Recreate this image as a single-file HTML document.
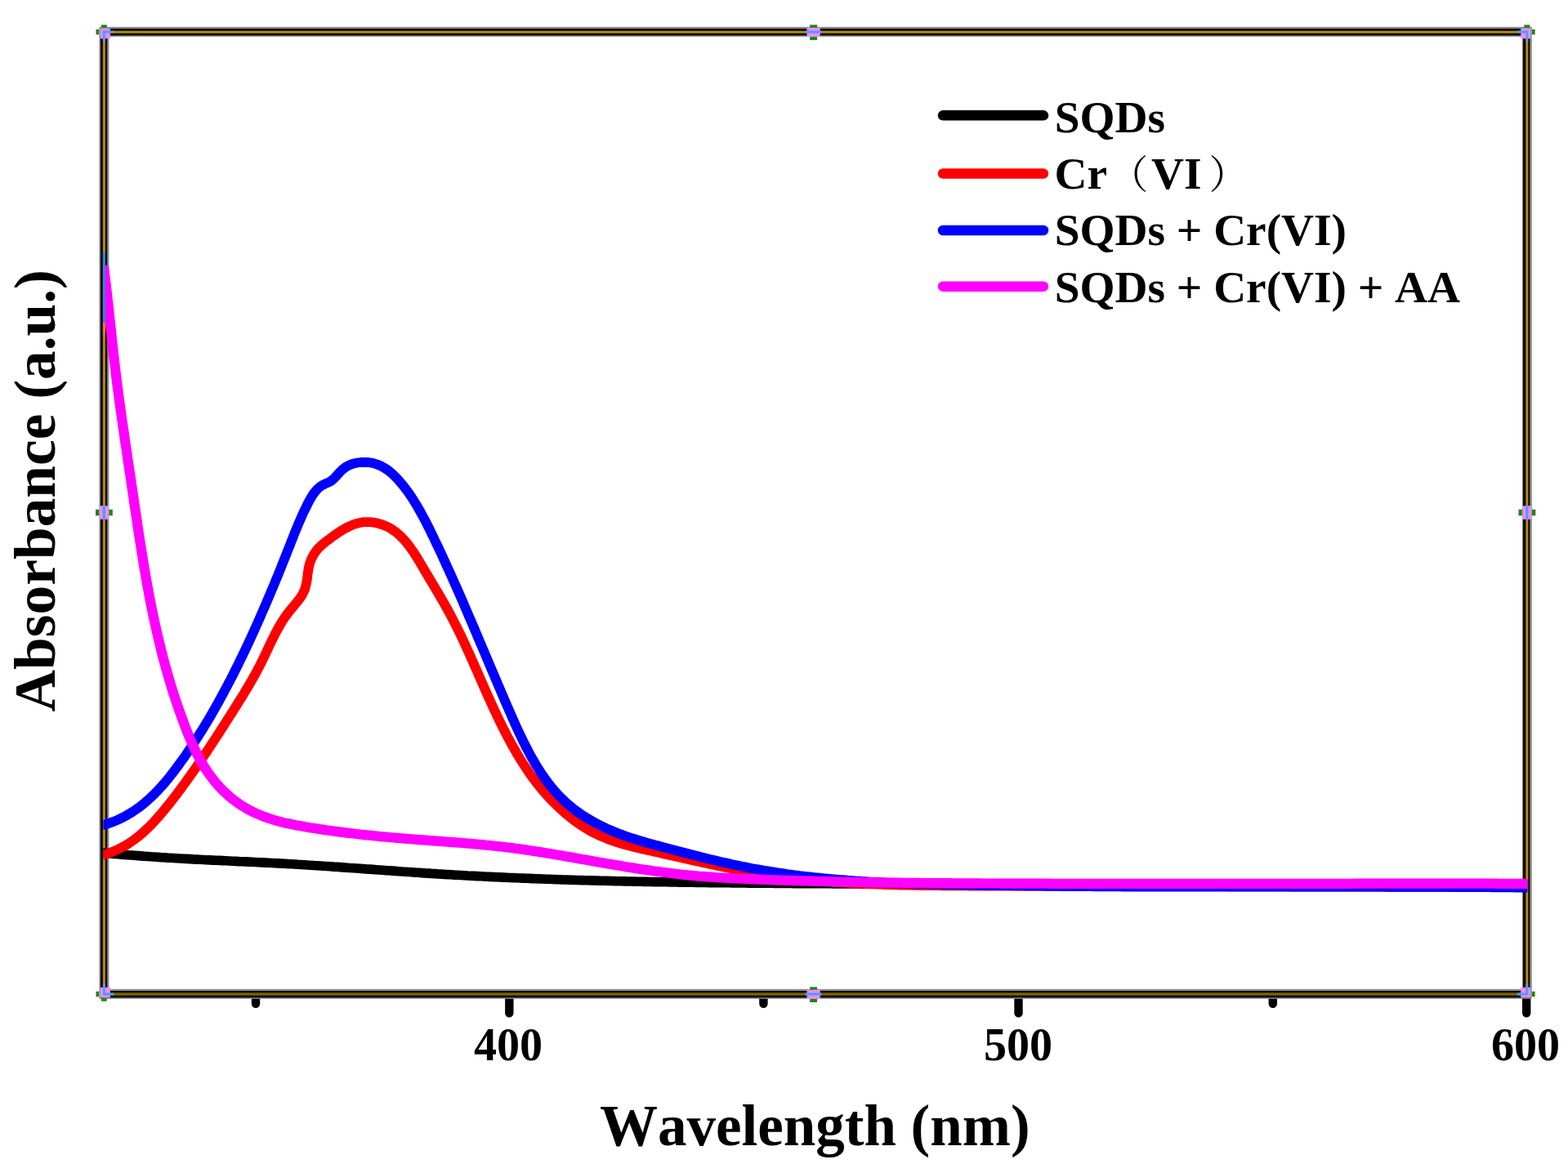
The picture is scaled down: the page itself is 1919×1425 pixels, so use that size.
<!DOCTYPE html>
<html lang="en"><head><meta charset="utf-8"><title>UV-vis absorbance spectra</title>
<style>
html,body{margin:0;padding:0;background:#fff;}
body{width:1919px;height:1425px;overflow:hidden;}
svg{display:block;}
text{fill:#000;font-kerning:none;}
</style></head><body>
<svg width="1919" height="1425" viewBox="0 0 1919 1425">
<rect width="1919" height="1425" fill="#fff"/>
<g stroke="#000" stroke-width="10.4" stroke-linecap="round">
<line x1="623.3" y1="1217.0" x2="623.3" y2="1240.3"/>
<line x1="1246.5" y1="1217.0" x2="1246.5" y2="1240.3"/>
<line x1="1868.2" y1="1217.0" x2="1868.2" y2="1240.3"/>
<line x1="313" y1="1217.0" x2="313" y2="1228.8"/>
<line x1="934.4" y1="1217.0" x2="934.4" y2="1228.8"/>
<line x1="1557.8" y1="1217.0" x2="1557.8" y2="1228.8"/>
</g>
<g fill="none" stroke-linejoin="miter">
<rect x="127.39999999999999" y="38.9" width="1741.4" height="1177.9" stroke="#8c8c8c" stroke-width="12"/>
<rect x="127.1" y="39.300000000000004" width="1741.1000000000001" height="1177.9" stroke="#000" stroke-width="8.2"/>
<path d="M127.39999999999999 1217.0 V39.2 H1868.8000000000002 V1217.0" stroke="#b98a00" stroke-width="3"/>
<path d="M127.39999999999999 1217.0 H1868.8000000000002" stroke="#7d5f00" stroke-width="3.4"/>
</g>
<rect x="125.8" y="309" width="3.2" height="86" fill="#2f84d8"/><rect x="125.8" y="395" width="3.2" height="15" fill="#de7f22"/>
<clipPath id="cp"><rect x="126.4" y="0" width="1742.8999999999999" height="1425"/></clipPath>
<clipPath id="cpm"><rect x="128.9" y="0" width="1740.3999999999999" height="1425"/></clipPath>
<g fill="none" stroke-linejoin="round" stroke-linecap="butt">
<path clip-path="url(#cp)" d="M125.0 1044.0 L129.0 1044.4 L133.0 1044.7 L137.0 1045.1 L140.9 1045.4 L144.9 1045.8 L148.9 1046.1 L152.9 1046.4 L156.9 1046.7 L160.9 1047.0 L164.9 1047.3 L168.9 1047.6 L172.8 1047.9 L176.8 1048.2 L180.8 1048.5 L184.8 1048.8 L188.8 1049.0 L192.8 1049.3 L196.8 1049.6 L200.8 1049.8 L204.8 1050.1 L208.8 1050.3 L212.8 1050.5 L216.7 1050.8 L220.7 1051.0 L224.7 1051.2 L228.7 1051.4 L232.7 1051.6 L236.7 1051.9 L240.7 1052.1 L244.7 1052.3 L248.7 1052.5 L252.7 1052.7 L256.7 1052.9 L260.7 1053.1 L264.7 1053.3 L268.7 1053.4 L272.7 1053.6 L276.6 1053.8 L280.6 1054.0 L284.6 1054.2 L288.6 1054.4 L292.6 1054.6 L296.6 1054.7 L300.6 1054.9 L304.6 1055.1 L308.6 1055.3 L312.6 1055.5 L316.6 1055.7 L320.6 1055.9 L324.6 1056.1 L328.6 1056.3 L332.6 1056.5 L336.6 1056.7 L340.6 1056.9 L344.5 1057.1 L348.5 1057.3 L352.5 1057.6 L356.5 1057.8 L360.5 1058.0 L364.5 1058.3 L368.5 1058.5 L372.5 1058.7 L376.5 1059.0 L380.5 1059.2 L384.5 1059.5 L388.5 1059.7 L392.5 1060.0 L396.4 1060.3 L400.4 1060.5 L404.4 1060.8 L408.4 1061.1 L412.4 1061.3 L416.4 1061.6 L420.4 1061.9 L424.4 1062.2 L428.4 1062.5 L432.4 1062.7 L436.4 1063.0 L440.3 1063.3 L444.3 1063.6 L448.3 1063.9 L452.3 1064.1 L456.3 1064.4 L460.3 1064.7 L464.3 1065.0 L468.3 1065.3 L472.3 1065.6 L476.3 1065.8 L480.3 1066.1 L484.2 1066.4 L488.2 1066.7 L492.2 1067.0 L496.2 1067.2 L500.2 1067.5 L504.2 1067.8 L508.2 1068.1 L512.2 1068.3 L516.2 1068.6 L520.2 1068.9 L524.2 1069.1 L528.1 1069.4 L532.1 1069.6 L536.1 1069.9 L540.1 1070.1 L544.1 1070.4 L548.1 1070.6 L552.1 1070.8 L556.1 1071.1 L560.1 1071.3 L564.1 1071.5 L568.1 1071.7 L572.1 1072.0 L576.1 1072.2 L580.1 1072.4 L584.1 1072.6 L588.0 1072.8 L592.0 1073.0 L596.0 1073.2 L600.0 1073.4 L604.0 1073.6 L608.0 1073.8 L612.0 1073.9 L616.0 1074.1 L620.0 1074.3 L624.0 1074.5 L628.0 1074.6 L632.0 1074.8 L636.0 1075.0 L640.0 1075.1 L644.0 1075.3 L648.0 1075.4 L652.0 1075.6 L656.0 1075.8 L660.0 1075.9 L664.0 1076.0 L668.0 1076.2 L672.0 1076.3 L675.9 1076.5 L679.9 1076.6 L683.9 1076.7 L687.9 1076.9 L691.9 1077.0 L695.9 1077.1 L699.9 1077.2 L703.9 1077.4 L707.9 1077.5 L711.9 1077.6 L715.9 1077.7 L719.9 1077.8 L723.9 1077.9 L727.9 1078.0 L731.9 1078.1 L735.9 1078.2 L739.9 1078.3 L743.9 1078.4 L747.9 1078.5 L751.9 1078.6 L755.9 1078.7 L759.9 1078.8 L763.9 1078.9 L767.9 1079.0 L771.9 1079.0 L775.9 1079.1 L779.9 1079.2 L783.9 1079.3 L787.9 1079.4 L791.9 1079.4 L795.9 1079.5 L799.9 1079.6 L803.9 1079.6 L807.9 1079.7 L811.9 1079.8 L815.9 1079.8 L819.9 1079.9 L823.9 1080.0 L827.9 1080.0 L831.9 1080.1 L835.9 1080.1 L839.9 1080.2 L843.9 1080.3 L847.9 1080.3 L851.9 1080.4 L855.9 1080.4 L859.9 1080.5 L863.9 1080.5 L867.9 1080.6 L871.9 1080.6 L875.9 1080.7 L879.9 1080.7 L883.9 1080.8 L887.9 1080.8 L891.9 1080.8 L895.9 1080.9 L899.9 1080.9 L903.9 1081.0 L907.9 1081.0 L911.9 1081.0 L915.9 1081.1 L919.9 1081.1 L923.9 1081.2 L927.9 1081.2 L931.9 1081.2 L935.9 1081.3 L939.9 1081.3 L943.9 1081.3 L947.9 1081.4 L951.9 1081.4 L955.9 1081.4 L959.9 1081.5 L963.9 1081.5 L967.9 1081.5 L971.9 1081.6 L975.9 1081.6 L979.9 1081.6 L983.9 1081.6 L987.9 1081.7 L991.9 1081.7 L995.9 1081.7 L999.9 1081.7 L1003.9 1081.8 L1007.9 1081.8 L1011.9 1081.8 L1015.9 1081.8 L1019.9 1081.9 L1023.9 1081.9 L1027.9 1081.9 L1031.9 1081.9 L1035.9 1082.0 L1039.9 1082.0 L1043.9 1082.0 L1047.9 1082.0 L1051.9 1082.0 L1055.9 1082.1 L1059.9 1082.1 L1063.9 1082.1 L1067.9 1082.1 L1071.9 1082.1 L1075.9 1082.2 L1079.9 1082.2 L1083.9 1082.2 L1087.9 1082.2 L1091.9 1082.2 L1095.9 1082.2 L1099.9 1082.3 L1103.9 1082.3 L1107.9 1082.3 L1111.9 1082.3 L1115.9 1082.3 L1119.9 1082.3 L1123.9 1082.3 L1127.9 1082.4 L1131.9 1082.4 L1135.9 1082.4 L1139.9 1082.4 L1143.9 1082.4 L1147.9 1082.4 L1151.9 1082.4 L1155.9 1082.4 L1159.9 1082.4 L1163.9 1082.5 L1167.9 1082.5 L1171.9 1082.5 L1175.9 1082.5 L1179.9 1082.5 L1183.9 1082.5 L1187.9 1082.5 L1191.9 1082.5 L1195.9 1082.5 L1199.9 1082.5 L1203.9 1082.5 L1207.9 1082.5 L1211.9 1082.5 L1215.9 1082.5 L1219.9 1082.6 L1223.9 1082.6 L1227.9 1082.6 L1231.9 1082.6 L1235.9 1082.6 L1239.9 1082.6 L1243.9 1082.6 L1247.9 1082.6 L1251.9 1082.6 L1255.9 1082.6 L1259.9 1082.6 L1263.9 1082.6 L1267.9 1082.6 L1271.9 1082.6 L1275.9 1082.6 L1279.9 1082.6 L1283.9 1082.6 L1287.9 1082.6 L1291.9 1082.6 L1295.9 1082.6 L1299.9 1082.6 L1303.9 1082.6 L1307.9 1082.6 L1311.9 1082.6 L1315.9 1082.6 L1319.9 1082.6 L1323.9 1082.6 L1327.9 1082.6 L1331.9 1082.6 L1335.9 1082.6 L1339.9 1082.6 L1343.9 1082.6 L1347.9 1082.6 L1351.9 1082.6 L1355.9 1082.6 L1359.9 1082.6 L1363.9 1082.6 L1367.9 1082.6 L1371.9 1082.6 L1375.9 1082.6 L1379.9 1082.6 L1383.9 1082.6 L1387.9 1082.6 L1391.9 1082.6 L1395.9 1082.5 L1399.9 1082.5 L1403.9 1082.5 L1407.9 1082.5 L1411.9 1082.5 L1415.9 1082.5 L1419.9 1082.5 L1423.9 1082.5 L1427.9 1082.5 L1431.9 1082.5 L1435.9 1082.5 L1439.9 1082.5 L1443.9 1082.5 L1447.9 1082.5 L1451.9 1082.5 L1455.9 1082.5 L1459.9 1082.5 L1463.9 1082.5 L1467.9 1082.5 L1471.9 1082.5 L1475.9 1082.5 L1479.9 1082.5 L1483.9 1082.5 L1487.9 1082.4 L1491.9 1082.4 L1495.9 1082.4 L1499.9 1082.4 L1503.9 1082.4 L1507.9 1082.4 L1511.9 1082.4 L1515.9 1082.4 L1519.9 1082.4 L1523.9 1082.4 L1527.9 1082.4 L1531.9 1082.4 L1535.9 1082.4 L1539.9 1082.4 L1543.9 1082.4 L1547.9 1082.4 L1551.9 1082.4 L1555.9 1082.4 L1559.9 1082.4 L1563.9 1082.4 L1567.9 1082.4 L1571.9 1082.4 L1575.9 1082.3 L1579.9 1082.3 L1583.9 1082.3 L1587.9 1082.3 L1591.9 1082.3 L1595.9 1082.3 L1599.9 1082.3 L1603.9 1082.3 L1607.9 1082.3 L1611.9 1082.3 L1615.9 1082.3 L1619.9 1082.3 L1623.9 1082.3 L1627.9 1082.3 L1631.9 1082.3 L1635.9 1082.3 L1639.9 1082.3 L1643.9 1082.3 L1647.9 1082.3 L1651.9 1082.3 L1655.9 1082.3 L1659.9 1082.3 L1663.9 1082.3 L1667.9 1082.3 L1671.9 1082.3 L1675.9 1082.3 L1679.9 1082.3 L1683.9 1082.3 L1687.9 1082.3 L1691.9 1082.3 L1695.9 1082.3 L1699.9 1082.3 L1703.9 1082.3 L1707.9 1082.3 L1711.9 1082.3 L1715.9 1082.3 L1719.9 1082.3 L1723.9 1082.3 L1727.9 1082.3 L1731.9 1082.3 L1735.9 1082.3 L1739.9 1082.3 L1743.9 1082.3 L1747.9 1082.3 L1751.9 1082.3 L1755.9 1082.3 L1759.9 1082.3 L1763.9 1082.3 L1767.9 1082.3 L1771.9 1082.3 L1775.9 1082.3 L1779.9 1082.3 L1783.9 1082.3 L1787.9 1082.3 L1791.9 1082.3 L1795.9 1082.4 L1799.9 1082.4 L1803.9 1082.4 L1807.9 1082.4 L1811.9 1082.4 L1815.9 1082.4 L1819.9 1082.4 L1823.9 1082.4 L1827.9 1082.4 L1831.9 1082.4 L1835.9 1082.4 L1839.9 1082.4 L1843.9 1082.5 L1847.9 1082.5 L1851.9 1082.5 L1855.9 1082.5 L1859.9 1082.5 L1863.9 1082.5 L1867.9 1082.5 L1870.0 1082.5" stroke="#000000" stroke-width="11.6"/>
<path clip-path="url(#cp)" d="M125.0 1047.0 L129.0 1045.8 L133.0 1044.6 L136.8 1043.1 L140.5 1041.6 L144.2 1039.9 L147.8 1038.2 L151.3 1036.3 L154.7 1034.3 L158.1 1032.2 L161.3 1030.0 L164.5 1027.7 L167.7 1025.3 L170.8 1022.8 L173.8 1020.2 L176.7 1017.6 L179.6 1014.9 L182.5 1012.2 L185.3 1009.3 L188.0 1006.5 L190.7 1003.5 L193.4 1000.6 L196.0 997.5 L198.6 994.5 L201.2 991.4 L203.7 988.3 L206.2 985.2 L208.7 982.0 L211.2 978.8 L213.6 975.7 L216.1 972.5 L218.5 969.3 L220.9 966.1 L223.3 962.8 L225.6 959.6 L228.0 956.4 L230.3 953.1 L232.6 949.9 L234.9 946.6 L237.2 943.3 L239.5 940.1 L241.8 936.8 L244.0 933.5 L246.3 930.2 L248.5 926.9 L250.7 923.6 L253.0 920.3 L255.2 916.9 L257.4 913.6 L259.6 910.3 L261.8 906.9 L263.9 903.6 L266.1 900.2 L268.3 896.9 L270.4 893.5 L272.6 890.2 L274.8 886.8 L276.9 883.4 L279.1 880.0 L281.2 876.7 L283.4 873.3 L285.5 869.9 L287.7 866.5 L289.8 863.1 L291.9 859.7 L294.1 856.3 L296.2 852.9 L298.3 849.5 L300.3 846.1 L302.4 842.6 L304.4 839.2 L306.5 835.7 L308.4 832.3 L310.4 828.8 L312.4 825.3 L314.3 821.8 L316.1 818.2 L318.0 814.7 L319.8 811.1 L321.6 807.5 L323.3 803.9 L325.0 800.3 L326.7 796.7 L328.4 793.1 L330.1 789.4 L331.9 785.8 L333.6 782.2 L335.4 778.7 L337.2 775.1 L339.1 771.6 L341.0 768.1 L343.0 764.7 L345.0 761.3 L347.2 757.9 L349.4 754.6 L351.8 751.4 L354.2 748.2 L356.8 745.1 L359.4 742.0 L362.0 738.9 L364.5 735.8 L366.9 732.6 L369.1 729.4 L371.1 725.9 L372.7 722.4 L373.9 718.6 L374.8 714.7 L375.6 710.7 L376.1 706.7 L376.6 702.6 L377.2 698.6 L377.9 694.6 L378.8 690.7 L380.1 686.9 L381.6 683.2 L383.5 679.7 L385.6 676.3 L388.0 673.2 L390.6 670.2 L393.5 667.4 L396.6 664.8 L399.8 662.3 L403.1 659.9 L406.4 657.4 L409.7 655.0 L413.1 652.7 L416.5 650.5 L419.9 648.3 L423.4 646.4 L427.0 644.6 L430.5 643.0 L434.2 641.6 L437.9 640.5 L441.6 639.7 L445.4 639.2 L449.3 639.1 L453.2 639.2 L457.1 639.6 L460.9 640.3 L464.7 641.3 L468.5 642.5 L472.1 644.0 L475.7 645.7 L479.1 647.6 L482.3 649.8 L485.4 652.1 L488.4 654.7 L491.3 657.4 L494.0 660.3 L496.7 663.3 L499.2 666.4 L501.7 669.7 L504.0 673.0 L506.4 676.4 L508.6 679.9 L510.8 683.4 L513.0 687.0 L515.1 690.5 L517.2 694.1 L519.3 697.6 L521.3 701.1 L523.4 704.6 L525.5 708.1 L527.5 711.5 L529.6 714.9 L531.6 718.4 L533.6 721.7 L535.6 725.1 L537.6 728.5 L539.6 731.9 L541.6 735.3 L543.5 738.7 L545.4 742.1 L547.3 745.5 L549.2 748.9 L551.1 752.4 L552.9 755.9 L554.7 759.4 L556.5 762.9 L558.3 766.4 L560.1 770.0 L561.8 773.5 L563.6 777.1 L565.3 780.7 L567.0 784.3 L568.7 787.9 L570.3 791.6 L572.0 795.2 L573.7 798.9 L575.3 802.5 L576.9 806.2 L578.6 809.9 L580.2 813.6 L581.8 817.3 L583.5 821.0 L585.1 824.7 L586.7 828.4 L588.4 832.1 L590.0 835.8 L591.6 839.5 L593.2 843.2 L594.9 846.9 L596.5 850.6 L598.2 854.3 L599.9 858.0 L601.5 861.6 L603.2 865.3 L604.9 869.0 L606.6 872.6 L608.3 876.3 L610.1 879.9 L611.8 883.6 L613.6 887.2 L615.4 890.8 L617.2 894.4 L619.1 897.9 L620.9 901.5 L622.8 905.0 L624.7 908.6 L626.6 912.1 L628.6 915.5 L630.6 919.0 L632.6 922.4 L634.6 925.9 L636.7 929.3 L638.8 932.6 L640.9 936.0 L643.1 939.3 L645.3 942.6 L647.5 945.8 L649.8 949.1 L652.1 952.3 L654.5 955.4 L656.9 958.6 L659.3 961.7 L661.8 964.8 L664.4 967.8 L666.9 970.8 L669.6 973.8 L672.2 976.7 L674.9 979.6 L677.7 982.4 L680.5 985.2 L683.4 988.0 L686.3 990.7 L689.3 993.4 L692.3 996.0 L695.4 998.6 L698.5 1001.1 L701.7 1003.6 L704.9 1005.9 L708.1 1008.3 L711.5 1010.5 L714.8 1012.7 L718.2 1014.8 L721.6 1016.8 L725.1 1018.7 L728.7 1020.5 L732.2 1022.2 L735.8 1023.9 L739.5 1025.4 L743.2 1026.9 L746.9 1028.3 L750.7 1029.6 L754.4 1030.9 L758.2 1032.1 L762.1 1033.2 L765.9 1034.3 L769.8 1035.3 L773.7 1036.3 L777.6 1037.3 L781.5 1038.2 L785.4 1039.2 L789.3 1040.1 L793.3 1041.0 L797.2 1041.8 L801.1 1042.7 L805.1 1043.6 L809.0 1044.5 L812.9 1045.4 L816.9 1046.3 L820.8 1047.2 L824.7 1048.1 L828.6 1049.0 L832.6 1049.8 L836.5 1050.7 L840.4 1051.6 L844.3 1052.5 L848.3 1053.4 L852.2 1054.2 L856.1 1055.1 L860.0 1056.0 L863.9 1056.8 L867.9 1057.7 L871.8 1058.5 L875.7 1059.3 L879.6 1060.2 L883.6 1061.0 L887.5 1061.8 L891.4 1062.5 L895.3 1063.3 L899.3 1064.1 L903.2 1064.8 L907.1 1065.6 L911.0 1066.3 L915.0 1067.0 L918.9 1067.7 L922.9 1068.3 L926.8 1069.0 L930.7 1069.6 L934.7 1070.2 L938.6 1070.8 L942.6 1071.4 L946.5 1072.0 L950.5 1072.5 L954.4 1073.0 L958.4 1073.6 L962.3 1074.1 L966.3 1074.5 L970.2 1075.0 L974.2 1075.5 L978.2 1075.9 L982.1 1076.3 L986.1 1076.7 L990.1 1077.1 L994.0 1077.5 L998.0 1077.9 L1002.0 1078.2 L1006.0 1078.6 L1009.9 1078.9 L1013.9 1079.2 L1017.9 1079.5 L1021.9 1079.8 L1025.8 1080.1 L1029.8 1080.3 L1033.8 1080.6 L1037.8 1080.8 L1041.8 1081.1 L1045.8 1081.3 L1049.8 1081.5 L1053.7 1081.7 L1057.7 1081.9 L1061.7 1082.1 L1065.7 1082.3 L1069.7 1082.4 L1073.7 1082.6 L1077.7 1082.7 L1081.7 1082.9 L1085.7 1083.0 L1089.7 1083.1 L1093.7 1083.3 L1097.7 1083.4 L1101.7 1083.5 L1105.7 1083.6 L1109.7 1083.7 L1113.7 1083.7 L1117.7 1083.8 L1121.7 1083.9 L1125.7 1084.0 L1129.7 1084.0 L1133.7 1084.1 L1137.7 1084.1 L1141.7 1084.2 L1145.7 1084.2 L1149.7 1084.2 L1153.7 1084.3 L1157.7 1084.3 L1161.7 1084.3 L1165.7 1084.4 L1169.7 1084.4 L1173.7 1084.4 L1177.8 1084.4 L1181.8 1084.4 L1185.8 1084.5 L1189.8 1084.5 L1193.8 1084.5 L1197.8 1084.5 L1201.8 1084.5 L1205.8 1084.5 L1209.8 1084.5 L1213.8 1084.5 L1217.8 1084.5 L1221.8 1084.5 L1225.8 1084.6 L1229.8 1084.6 L1233.8 1084.6 L1237.8 1084.6 L1241.8 1084.6 L1245.8 1084.6 L1249.8 1084.6 L1253.9 1084.6 L1257.9 1084.6 L1261.9 1084.6 L1265.9 1084.6 L1269.9 1084.7 L1273.9 1084.7 L1277.9 1084.7 L1281.9 1084.7 L1285.9 1084.7 L1289.9 1084.7 L1293.9 1084.7 L1297.9 1084.7 L1301.9 1084.7 L1305.9 1084.7 L1309.9 1084.7 L1313.9 1084.8 L1317.9 1084.8 L1321.9 1084.8 L1325.9 1084.8 L1329.9 1084.8 L1333.9 1084.8 L1337.9 1084.8 L1341.9 1084.8 L1345.9 1084.8 L1349.9 1084.8 L1353.9 1084.9 L1357.9 1084.9 L1361.9 1084.9 L1365.9 1084.9 L1369.9 1084.9 L1373.9 1084.9 L1377.9 1084.9 L1381.9 1084.9 L1385.9 1084.9 L1389.9 1084.9 L1393.9 1085.0 L1397.9 1085.0 L1401.9 1085.0 L1405.9 1085.0 L1409.9 1085.0 L1413.9 1085.0 L1417.9 1085.0 L1421.9 1085.0 L1425.9 1085.0 L1429.9 1085.1 L1433.9 1085.1 L1437.9 1085.1 L1441.9 1085.1 L1445.9 1085.1 L1449.9 1085.1 L1453.9 1085.1 L1457.9 1085.1 L1461.9 1085.1 L1465.9 1085.1 L1469.9 1085.2 L1473.9 1085.2 L1477.9 1085.2 L1481.9 1085.2 L1485.9 1085.2 L1489.9 1085.2 L1493.9 1085.2 L1497.9 1085.2 L1501.9 1085.2 L1505.9 1085.3 L1509.9 1085.3 L1513.9 1085.3 L1517.8 1085.3 L1521.8 1085.3 L1525.8 1085.3 L1529.8 1085.3 L1533.8 1085.3 L1537.8 1085.3 L1541.8 1085.3 L1545.8 1085.4 L1549.8 1085.4 L1553.8 1085.4 L1557.8 1085.4 L1561.8 1085.4 L1565.8 1085.4 L1569.8 1085.4 L1573.8 1085.4 L1577.8 1085.4 L1581.8 1085.5 L1585.8 1085.5 L1589.8 1085.5 L1593.8 1085.5 L1597.8 1085.5 L1601.8 1085.5 L1605.8 1085.5 L1609.8 1085.5 L1613.8 1085.5 L1617.8 1085.5 L1621.8 1085.6 L1625.8 1085.6 L1629.8 1085.6 L1633.8 1085.6 L1637.8 1085.6 L1641.8 1085.6 L1645.8 1085.6 L1649.8 1085.6 L1653.8 1085.6 L1657.8 1085.7 L1661.8 1085.7 L1665.8 1085.7 L1669.8 1085.7 L1673.8 1085.7 L1677.8 1085.7 L1681.8 1085.7 L1685.8 1085.7 L1689.8 1085.7 L1693.8 1085.8 L1697.8 1085.8 L1701.8 1085.8 L1705.8 1085.8 L1709.8 1085.8 L1713.8 1085.8 L1717.8 1085.8 L1721.8 1085.8 L1725.8 1085.8 L1729.8 1085.8 L1733.8 1085.9 L1737.8 1085.9 L1741.8 1085.9 L1745.8 1085.9 L1749.8 1085.9 L1753.8 1085.9 L1757.8 1085.9 L1761.8 1085.9 L1765.8 1085.9 L1769.8 1085.9 L1773.8 1086.0 L1777.8 1086.0 L1781.8 1086.0 L1785.8 1086.0 L1789.8 1086.0 L1793.8 1086.0 L1797.8 1086.0 L1801.8 1086.0 L1805.8 1086.0 L1809.8 1086.1 L1813.8 1086.1 L1817.8 1086.1 L1821.8 1086.1 L1825.8 1086.1 L1829.8 1086.1 L1833.8 1086.1 L1837.8 1086.1 L1841.8 1086.1 L1845.8 1086.1 L1849.8 1086.2 L1853.8 1086.2 L1857.8 1086.2 L1861.8 1086.2 L1865.8 1086.2 L1869.8 1086.2 L1870.0 1086.2" stroke="#ff0000" stroke-width="11.8"/>
<path clip-path="url(#cp)" d="M125.0 1010.3 L129.0 1009.2 L133.0 1008.0 L136.8 1006.6 L140.6 1005.2 L144.3 1003.6 L147.9 1001.9 L151.5 1000.1 L155.0 998.2 L158.4 996.2 L161.8 994.2 L165.0 992.0 L168.3 989.7 L171.4 987.4 L174.5 985.0 L177.6 982.5 L180.5 979.9 L183.5 977.2 L186.3 974.5 L189.2 971.7 L192.0 968.9 L194.7 966.0 L197.4 963.1 L200.0 960.1 L202.6 957.1 L205.2 954.0 L207.7 950.9 L210.2 947.7 L212.7 944.5 L215.1 941.3 L217.5 938.1 L219.9 934.8 L222.2 931.5 L224.6 928.3 L226.9 925.0 L229.1 921.7 L231.4 918.3 L233.6 915.0 L235.9 911.7 L238.1 908.3 L240.2 904.9 L242.4 901.6 L244.5 898.2 L246.7 894.8 L248.8 891.4 L250.8 888.0 L252.9 884.6 L255.0 881.1 L257.0 877.7 L259.0 874.2 L261.0 870.8 L263.0 867.3 L264.9 863.8 L266.9 860.4 L268.8 856.9 L270.7 853.4 L272.6 849.9 L274.5 846.3 L276.4 842.8 L278.3 839.3 L280.1 835.8 L282.0 832.2 L283.8 828.7 L285.6 825.1 L287.4 821.5 L289.2 818.0 L291.0 814.4 L292.7 810.8 L294.5 807.2 L296.2 803.6 L298.0 800.0 L299.7 796.4 L301.4 792.8 L303.1 789.2 L304.8 785.5 L306.5 781.9 L308.1 778.3 L309.8 774.6 L311.5 771.0 L313.1 767.3 L314.8 763.7 L316.4 760.0 L318.0 756.4 L319.6 752.7 L321.2 749.0 L322.8 745.4 L324.4 741.7 L326.0 738.0 L327.5 734.3 L329.1 730.6 L330.7 726.9 L332.2 723.2 L333.8 719.6 L335.3 715.9 L336.8 712.2 L338.3 708.5 L339.9 704.8 L341.4 701.1 L342.9 697.3 L344.4 693.6 L345.8 689.9 L347.3 686.2 L348.8 682.5 L350.3 678.8 L351.7 675.1 L353.2 671.4 L354.7 667.7 L356.1 663.9 L357.6 660.2 L359.1 656.5 L360.5 652.8 L362.0 649.1 L363.6 645.4 L365.1 641.7 L366.7 638.0 L368.3 634.3 L369.9 630.6 L371.6 626.9 L373.4 623.3 L375.2 619.6 L377.0 615.9 L378.9 612.3 L381.0 608.7 L383.1 605.3 L385.5 602.1 L388.1 599.1 L390.9 596.5 L394.1 594.2 L397.6 592.4 L401.3 590.9 L404.8 589.1 L407.9 586.6 L410.7 583.8 L413.4 580.8 L416.0 577.9 L418.8 575.1 L421.9 572.6 L425.2 570.5 L428.8 568.8 L432.9 567.4 L437.2 566.5 L441.6 566.0 L446.0 565.8 L450.4 566.0 L454.5 566.6 L458.4 567.5 L462.2 568.8 L465.8 570.3 L469.2 572.1 L472.5 574.1 L475.7 576.4 L478.7 578.8 L481.6 581.5 L484.4 584.2 L487.1 587.1 L489.7 590.1 L492.3 593.1 L494.7 596.2 L497.1 599.3 L499.5 602.5 L501.7 605.8 L504.0 609.1 L506.1 612.4 L508.2 615.8 L510.3 619.2 L512.3 622.7 L514.3 626.2 L516.2 629.7 L518.1 633.2 L520.0 636.8 L521.8 640.3 L523.7 643.9 L525.5 647.5 L527.2 651.2 L529.0 654.8 L530.8 658.4 L532.5 662.1 L534.2 665.7 L536.0 669.3 L537.7 673.0 L539.4 676.6 L541.1 680.3 L542.8 684.0 L544.5 687.6 L546.1 691.3 L547.8 694.9 L549.5 698.6 L551.1 702.3 L552.8 705.9 L554.4 709.6 L556.0 713.3 L557.7 716.9 L559.3 720.6 L560.9 724.2 L562.5 727.9 L564.1 731.5 L565.7 735.2 L567.3 738.9 L568.8 742.5 L570.4 746.2 L572.0 749.8 L573.5 753.5 L575.1 757.1 L576.7 760.7 L578.2 764.4 L579.8 768.0 L581.3 771.7 L582.9 775.3 L584.4 779.0 L586.0 782.6 L587.5 786.3 L589.1 789.9 L590.6 793.6 L592.2 797.2 L593.7 800.9 L595.2 804.5 L596.8 808.2 L598.3 811.8 L599.9 815.5 L601.4 819.2 L603.0 822.8 L604.6 826.5 L606.1 830.2 L607.7 833.8 L609.2 837.5 L610.8 841.2 L612.4 844.9 L614.0 848.6 L615.6 852.3 L617.1 856.0 L618.7 859.7 L620.3 863.4 L622.0 867.1 L623.6 870.8 L625.2 874.5 L626.8 878.2 L628.5 881.9 L630.1 885.7 L631.8 889.4 L633.5 893.1 L635.2 896.8 L637.0 900.5 L638.7 904.1 L640.5 907.8 L642.3 911.4 L644.1 915.0 L646.0 918.6 L647.9 922.2 L649.8 925.7 L651.8 929.2 L653.8 932.7 L655.8 936.2 L657.9 939.6 L660.1 942.9 L662.2 946.3 L664.5 949.6 L666.7 952.8 L669.0 956.0 L671.4 959.2 L673.8 962.2 L676.3 965.3 L678.9 968.3 L681.5 971.2 L684.1 974.1 L686.9 976.9 L689.7 979.6 L692.5 982.3 L695.5 984.9 L698.5 987.4 L701.5 989.9 L704.7 992.3 L707.9 994.6 L711.1 996.9 L714.4 999.0 L717.8 1001.2 L721.2 1003.2 L724.7 1005.2 L728.2 1007.2 L731.7 1009.0 L735.3 1010.8 L738.9 1012.6 L742.5 1014.3 L746.2 1015.9 L749.9 1017.5 L753.6 1019.0 L757.3 1020.5 L761.1 1021.9 L764.8 1023.2 L768.6 1024.5 L772.4 1025.8 L776.2 1027.0 L780.0 1028.2 L783.8 1029.4 L787.6 1030.5 L791.5 1031.6 L795.3 1032.7 L799.2 1033.7 L803.0 1034.8 L806.9 1035.8 L810.8 1036.9 L814.6 1037.9 L818.5 1038.9 L822.4 1039.9 L826.2 1040.9 L830.1 1042.0 L834.0 1043.0 L837.9 1044.0 L841.8 1045.0 L845.6 1046.0 L849.5 1047.0 L853.4 1048.0 L857.3 1049.0 L861.2 1050.0 L865.1 1050.9 L869.0 1051.9 L872.9 1052.8 L876.8 1053.7 L880.7 1054.7 L884.6 1055.6 L888.5 1056.4 L892.5 1057.3 L896.4 1058.2 L900.3 1059.0 L904.2 1059.8 L908.1 1060.7 L912.1 1061.4 L916.0 1062.2 L919.9 1063.0 L923.9 1063.7 L927.8 1064.4 L931.7 1065.1 L935.7 1065.8 L939.6 1066.4 L943.6 1067.1 L947.5 1067.7 L951.4 1068.3 L955.4 1068.9 L959.3 1069.4 L963.3 1070.0 L967.3 1070.5 L971.2 1071.1 L975.2 1071.6 L979.1 1072.1 L983.1 1072.5 L987.1 1073.0 L991.0 1073.4 L995.0 1073.9 L999.0 1074.3 L1002.9 1074.7 L1006.9 1075.1 L1010.9 1075.5 L1014.9 1075.8 L1018.8 1076.2 L1022.8 1076.5 L1026.8 1076.9 L1030.8 1077.2 L1034.7 1077.5 L1038.7 1077.8 L1042.7 1078.1 L1046.7 1078.4 L1050.7 1078.6 L1054.7 1078.9 L1058.7 1079.1 L1062.7 1079.4 L1066.6 1079.6 L1070.6 1079.8 L1074.6 1080.0 L1078.6 1080.2 L1082.6 1080.4 L1086.6 1080.6 L1090.6 1080.8 L1094.6 1081.0 L1098.6 1081.1 L1102.6 1081.3 L1106.6 1081.4 L1110.6 1081.6 L1114.6 1081.7 L1118.6 1081.8 L1122.6 1082.0 L1126.6 1082.1 L1130.6 1082.2 L1134.6 1082.3 L1138.6 1082.4 L1142.6 1082.5 L1146.6 1082.6 L1150.6 1082.7 L1154.6 1082.8 L1158.6 1082.9 L1162.6 1083.0 L1166.6 1083.1 L1170.6 1083.1 L1174.6 1083.2 L1178.6 1083.3 L1182.6 1083.4 L1186.6 1083.4 L1190.6 1083.5 L1194.6 1083.6 L1198.6 1083.7 L1202.6 1083.7 L1206.6 1083.8 L1210.6 1083.9 L1214.6 1083.9 L1218.6 1084.0 L1222.6 1084.0 L1226.6 1084.1 L1230.6 1084.2 L1234.6 1084.2 L1238.6 1084.3 L1242.7 1084.3 L1246.7 1084.4 L1250.7 1084.4 L1254.7 1084.5 L1258.7 1084.5 L1262.7 1084.6 L1266.7 1084.6 L1270.7 1084.7 L1274.7 1084.7 L1278.7 1084.8 L1282.7 1084.8 L1286.7 1084.8 L1290.7 1084.9 L1294.7 1084.9 L1298.7 1085.0 L1302.7 1085.0 L1306.7 1085.0 L1310.7 1085.1 L1314.7 1085.1 L1318.7 1085.1 L1322.7 1085.2 L1326.7 1085.2 L1330.7 1085.2 L1334.7 1085.2 L1338.7 1085.3 L1342.7 1085.3 L1346.7 1085.3 L1350.7 1085.3 L1354.7 1085.4 L1358.7 1085.4 L1362.7 1085.4 L1366.7 1085.4 L1370.7 1085.4 L1374.7 1085.5 L1378.7 1085.5 L1382.7 1085.5 L1386.7 1085.5 L1390.7 1085.5 L1394.7 1085.5 L1398.7 1085.6 L1402.7 1085.6 L1406.7 1085.6 L1410.7 1085.6 L1414.7 1085.6 L1418.7 1085.6 L1422.7 1085.6 L1426.7 1085.6 L1430.7 1085.7 L1434.7 1085.7 L1438.7 1085.7 L1442.7 1085.7 L1446.7 1085.7 L1450.7 1085.7 L1454.7 1085.7 L1458.7 1085.7 L1462.7 1085.7 L1466.6 1085.7 L1470.6 1085.7 L1474.6 1085.7 L1478.6 1085.7 L1482.6 1085.7 L1486.6 1085.7 L1490.6 1085.7 L1494.6 1085.7 L1498.6 1085.7 L1502.6 1085.7 L1506.6 1085.7 L1510.6 1085.7 L1514.6 1085.7 L1518.6 1085.7 L1522.6 1085.7 L1526.6 1085.7 L1530.6 1085.7 L1534.6 1085.7 L1538.6 1085.7 L1542.6 1085.7 L1546.6 1085.7 L1550.6 1085.7 L1554.6 1085.7 L1558.6 1085.7 L1562.6 1085.7 L1566.6 1085.7 L1570.6 1085.7 L1574.6 1085.7 L1578.6 1085.7 L1582.6 1085.7 L1586.6 1085.7 L1590.6 1085.7 L1594.6 1085.7 L1598.6 1085.7 L1602.6 1085.7 L1606.6 1085.7 L1610.6 1085.7 L1614.6 1085.7 L1618.6 1085.7 L1622.6 1085.7 L1626.6 1085.7 L1630.6 1085.7 L1634.6 1085.7 L1638.6 1085.7 L1642.6 1085.7 L1646.6 1085.7 L1650.6 1085.7 L1654.6 1085.7 L1658.6 1085.7 L1662.6 1085.7 L1666.6 1085.7 L1670.6 1085.7 L1674.6 1085.7 L1678.6 1085.7 L1682.6 1085.7 L1686.6 1085.7 L1690.6 1085.7 L1694.6 1085.7 L1698.6 1085.8 L1702.6 1085.8 L1706.6 1085.8 L1710.6 1085.8 L1714.6 1085.8 L1718.6 1085.8 L1722.6 1085.8 L1726.6 1085.8 L1730.6 1085.8 L1734.6 1085.8 L1738.6 1085.8 L1742.6 1085.8 L1746.6 1085.9 L1750.6 1085.9 L1754.6 1085.9 L1758.6 1085.9 L1762.6 1085.9 L1766.6 1085.9 L1770.6 1085.9 L1774.6 1086.0 L1778.6 1086.0 L1782.6 1086.0 L1786.6 1086.0 L1790.6 1086.0 L1794.6 1086.1 L1798.6 1086.1 L1802.6 1086.1 L1806.6 1086.1 L1810.6 1086.2 L1814.6 1086.2 L1818.6 1086.2 L1822.6 1086.2 L1826.6 1086.3 L1830.6 1086.3 L1834.6 1086.3 L1838.6 1086.4 L1842.6 1086.4 L1846.6 1086.4 L1850.6 1086.4 L1854.6 1086.5 L1858.6 1086.5 L1862.6 1086.6 L1866.6 1086.6 L1870.0 1086.6" stroke="#0000ff" stroke-width="11.8"/>
<path clip-path="url(#cpm)" d="M126.6 325.0 L127.1 329.0 L127.7 332.9 L128.2 336.9 L128.7 340.9 L129.2 344.8 L129.7 348.8 L130.2 352.8 L130.6 356.8 L131.1 360.7 L131.5 364.7 L132.0 368.7 L132.4 372.6 L132.9 376.6 L133.3 380.6 L133.7 384.6 L134.2 388.6 L134.6 392.5 L135.0 396.5 L135.4 400.5 L135.9 404.5 L136.3 408.4 L136.7 412.4 L137.1 416.4 L137.6 420.4 L138.0 424.3 L138.4 428.3 L138.9 432.3 L139.3 436.3 L139.8 440.2 L140.2 444.2 L140.7 448.2 L141.2 452.1 L141.6 456.1 L142.1 460.1 L142.6 464.1 L143.1 468.0 L143.6 472.0 L144.1 475.9 L144.7 479.9 L145.2 483.9 L145.7 487.8 L146.3 491.8 L146.8 495.8 L147.3 499.7 L147.9 503.7 L148.5 507.6 L149.0 511.6 L149.6 515.6 L150.1 519.5 L150.7 523.5 L151.3 527.4 L151.9 531.4 L152.4 535.4 L153.0 539.3 L153.6 543.3 L154.2 547.2 L154.8 551.2 L155.4 555.1 L155.9 559.1 L156.5 563.1 L157.1 567.0 L157.7 571.0 L158.3 574.9 L158.9 578.9 L159.5 582.8 L160.1 586.8 L160.7 590.7 L161.2 594.7 L161.8 598.7 L162.4 602.6 L163.0 606.6 L163.6 610.5 L164.1 614.5 L164.7 618.5 L165.3 622.4 L165.9 626.4 L166.5 630.3 L167.1 634.3 L167.7 638.2 L168.2 642.2 L168.8 646.2 L169.4 650.1 L170.0 654.1 L170.6 658.0 L171.2 662.0 L171.9 665.9 L172.5 669.9 L173.1 673.8 L173.7 677.8 L174.4 681.7 L175.0 685.7 L175.7 689.6 L176.3 693.6 L177.0 697.5 L177.7 701.4 L178.3 705.4 L179.0 709.3 L179.7 713.3 L180.4 717.2 L181.2 721.1 L181.9 725.1 L182.6 729.0 L183.4 732.9 L184.1 736.8 L184.9 740.8 L185.7 744.7 L186.5 748.6 L187.3 752.5 L188.1 756.4 L189.0 760.3 L189.8 764.2 L190.7 768.2 L191.6 772.1 L192.5 776.0 L193.4 779.8 L194.3 783.7 L195.2 787.6 L196.2 791.5 L197.1 795.4 L198.1 799.3 L199.1 803.1 L200.1 807.0 L201.2 810.9 L202.2 814.7 L203.3 818.6 L204.4 822.4 L205.5 826.3 L206.6 830.1 L207.7 833.9 L208.9 837.8 L210.0 841.6 L211.2 845.4 L212.4 849.2 L213.7 853.0 L214.9 856.8 L216.2 860.6 L217.5 864.4 L218.8 868.2 L220.1 872.0 L221.5 875.7 L222.8 879.5 L224.2 883.2 L225.6 887.0 L227.0 890.7 L228.5 894.5 L230.0 898.2 L231.5 901.9 L233.1 905.6 L234.6 909.3 L236.3 912.9 L238.0 916.5 L239.7 920.1 L241.5 923.7 L243.4 927.3 L245.3 930.8 L247.3 934.3 L249.3 937.7 L251.5 941.1 L253.7 944.4 L256.0 947.7 L258.4 951.0 L260.9 954.2 L263.4 957.3 L266.0 960.4 L268.7 963.4 L271.4 966.3 L274.3 969.1 L277.2 971.8 L280.1 974.5 L283.2 977.1 L286.3 979.5 L289.5 981.9 L292.7 984.2 L296.0 986.3 L299.4 988.4 L302.8 990.4 L306.3 992.3 L309.9 994.1 L313.5 995.7 L317.1 997.3 L320.8 998.9 L324.5 1000.3 L328.2 1001.6 L332.0 1002.8 L335.8 1004.0 L339.7 1005.1 L343.6 1006.1 L347.4 1007.1 L351.4 1008.0 L355.3 1008.8 L359.2 1009.6 L363.2 1010.4 L367.1 1011.1 L371.1 1011.8 L375.1 1012.5 L379.0 1013.2 L383.0 1013.8 L387.0 1014.4 L390.9 1015.0 L394.9 1015.6 L398.9 1016.2 L402.9 1016.8 L406.8 1017.3 L410.8 1017.9 L414.8 1018.4 L418.7 1018.9 L422.7 1019.4 L426.7 1019.9 L430.6 1020.3 L434.6 1020.8 L438.6 1021.2 L442.6 1021.7 L446.5 1022.1 L450.5 1022.5 L454.5 1022.9 L458.4 1023.3 L462.4 1023.7 L466.4 1024.1 L470.4 1024.4 L474.3 1024.8 L478.3 1025.2 L482.3 1025.5 L486.3 1025.8 L490.2 1026.2 L494.2 1026.5 L498.2 1026.8 L502.2 1027.2 L506.2 1027.5 L510.1 1027.8 L514.1 1028.1 L518.1 1028.4 L522.1 1028.7 L526.1 1029.0 L530.1 1029.3 L534.1 1029.6 L538.0 1029.9 L542.0 1030.2 L546.0 1030.5 L550.0 1030.8 L554.0 1031.1 L558.0 1031.4 L562.0 1031.7 L566.0 1032.0 L570.0 1032.3 L573.9 1032.7 L577.9 1033.0 L581.9 1033.4 L585.9 1033.7 L589.9 1034.1 L593.9 1034.5 L597.9 1034.8 L601.8 1035.2 L605.8 1035.7 L609.8 1036.1 L613.8 1036.5 L617.8 1037.0 L621.7 1037.5 L625.7 1037.9 L629.7 1038.5 L633.6 1039.0 L637.6 1039.5 L641.5 1040.1 L645.5 1040.7 L649.5 1041.2 L653.4 1041.9 L657.4 1042.5 L661.3 1043.1 L665.3 1043.7 L669.2 1044.4 L673.2 1045.1 L677.1 1045.7 L681.0 1046.4 L685.0 1047.1 L688.9 1047.8 L692.9 1048.5 L696.8 1049.1 L700.7 1049.8 L704.7 1050.5 L708.6 1051.2 L712.5 1051.9 L716.5 1052.6 L720.4 1053.3 L724.3 1054.0 L728.3 1054.7 L732.2 1055.4 L736.1 1056.1 L740.1 1056.7 L744.0 1057.4 L748.0 1058.1 L751.9 1058.8 L755.8 1059.4 L759.8 1060.1 L763.7 1060.7 L767.7 1061.4 L771.6 1062.0 L775.6 1062.6 L779.5 1063.2 L783.5 1063.9 L787.4 1064.5 L791.4 1065.0 L795.3 1065.6 L799.3 1066.2 L803.3 1066.7 L807.2 1067.3 L811.2 1067.8 L815.2 1068.3 L819.1 1068.8 L823.1 1069.3 L827.1 1069.8 L831.1 1070.2 L835.0 1070.7 L839.0 1071.1 L843.0 1071.5 L847.0 1071.9 L851.0 1072.2 L854.9 1072.6 L858.9 1072.9 L862.9 1073.2 L866.9 1073.5 L870.9 1073.7 L874.9 1074.0 L878.9 1074.3 L882.9 1074.5 L886.9 1074.7 L890.9 1074.9 L894.9 1075.1 L898.9 1075.3 L902.8 1075.5 L906.8 1075.7 L910.8 1075.9 L914.8 1076.0 L918.8 1076.2 L922.8 1076.4 L926.8 1076.5 L930.8 1076.7 L934.8 1076.8 L938.8 1077.0 L942.8 1077.1 L946.8 1077.3 L950.8 1077.4 L954.8 1077.6 L958.8 1077.7 L962.8 1077.8 L966.8 1077.9 L970.8 1078.1 L974.8 1078.2 L978.8 1078.3 L982.8 1078.4 L986.8 1078.5 L990.8 1078.6 L994.8 1078.7 L998.8 1078.8 L1002.8 1078.9 L1006.8 1079.0 L1010.8 1079.1 L1014.8 1079.2 L1018.8 1079.3 L1022.8 1079.4 L1026.8 1079.5 L1030.8 1079.6 L1034.8 1079.7 L1038.8 1079.7 L1042.8 1079.8 L1046.8 1079.9 L1050.8 1080.0 L1054.8 1080.0 L1058.8 1080.1 L1062.8 1080.2 L1066.8 1080.2 L1070.8 1080.3 L1074.8 1080.3 L1078.8 1080.4 L1082.8 1080.5 L1086.7 1080.5 L1090.7 1080.6 L1094.7 1080.6 L1098.7 1080.7 L1102.7 1080.7 L1106.7 1080.8 L1110.7 1080.8 L1114.7 1080.8 L1118.7 1080.9 L1122.7 1080.9 L1126.7 1081.0 L1130.7 1081.0 L1134.7 1081.0 L1138.7 1081.1 L1142.7 1081.1 L1146.7 1081.1 L1150.7 1081.2 L1154.7 1081.2 L1158.7 1081.2 L1162.7 1081.2 L1166.7 1081.3 L1170.7 1081.3 L1174.7 1081.3 L1178.7 1081.3 L1182.7 1081.4 L1186.7 1081.4 L1190.7 1081.4 L1194.7 1081.4 L1198.7 1081.4 L1202.7 1081.5 L1206.7 1081.5 L1210.7 1081.5 L1214.7 1081.5 L1218.7 1081.5 L1222.7 1081.5 L1226.7 1081.6 L1230.7 1081.6 L1234.7 1081.6 L1238.7 1081.6 L1242.7 1081.6 L1246.7 1081.6 L1250.7 1081.7 L1254.7 1081.7 L1258.7 1081.7 L1262.7 1081.7 L1266.7 1081.7 L1270.7 1081.7 L1274.7 1081.7 L1278.7 1081.7 L1282.7 1081.7 L1286.7 1081.8 L1290.7 1081.8 L1294.7 1081.8 L1298.7 1081.8 L1302.7 1081.8 L1306.7 1081.8 L1310.7 1081.8 L1314.7 1081.8 L1318.7 1081.8 L1322.7 1081.8 L1326.7 1081.8 L1330.7 1081.8 L1334.7 1081.9 L1338.7 1081.9 L1342.7 1081.9 L1346.7 1081.9 L1350.7 1081.9 L1354.7 1081.9 L1358.7 1081.9 L1362.7 1081.9 L1366.7 1081.9 L1370.7 1081.9 L1374.7 1081.9 L1378.7 1081.9 L1382.7 1081.9 L1386.7 1081.9 L1390.7 1081.9 L1394.7 1081.9 L1398.7 1081.9 L1402.7 1081.9 L1406.7 1081.9 L1410.7 1081.9 L1414.7 1081.9 L1418.7 1081.9 L1422.7 1081.9 L1426.7 1081.9 L1430.7 1081.9 L1434.7 1081.9 L1438.7 1081.9 L1442.7 1081.9 L1446.7 1081.9 L1450.7 1081.9 L1454.7 1081.9 L1458.7 1081.9 L1462.7 1081.9 L1466.7 1081.9 L1470.7 1081.9 L1474.7 1081.9 L1478.7 1081.9 L1482.7 1081.9 L1486.7 1081.9 L1490.7 1081.9 L1494.7 1081.9 L1498.7 1081.9 L1502.7 1081.9 L1506.7 1081.9 L1510.7 1081.9 L1514.7 1081.9 L1518.7 1081.9 L1522.7 1081.9 L1526.7 1081.9 L1530.7 1081.9 L1534.7 1081.9 L1538.7 1081.9 L1542.7 1081.9 L1546.7 1081.9 L1550.7 1081.9 L1554.7 1081.8 L1558.7 1081.8 L1562.7 1081.8 L1566.7 1081.8 L1570.7 1081.8 L1574.7 1081.8 L1578.7 1081.8 L1582.7 1081.8 L1586.7 1081.8 L1590.7 1081.8 L1594.7 1081.8 L1598.7 1081.8 L1602.7 1081.8 L1606.7 1081.8 L1610.7 1081.8 L1614.7 1081.8 L1618.7 1081.8 L1622.7 1081.8 L1626.7 1081.8 L1630.7 1081.8 L1634.7 1081.8 L1638.7 1081.8 L1642.7 1081.8 L1646.7 1081.8 L1650.7 1081.8 L1654.7 1081.8 L1658.7 1081.7 L1662.7 1081.7 L1666.7 1081.7 L1670.7 1081.7 L1674.7 1081.7 L1678.7 1081.7 L1682.7 1081.7 L1686.7 1081.7 L1690.7 1081.7 L1694.7 1081.7 L1698.7 1081.7 L1702.7 1081.7 L1706.7 1081.7 L1710.7 1081.7 L1714.7 1081.7 L1718.7 1081.7 L1722.7 1081.7 L1726.7 1081.7 L1730.7 1081.7 L1734.7 1081.7 L1738.7 1081.7 L1742.7 1081.7 L1746.7 1081.7 L1750.7 1081.7 L1754.7 1081.7 L1758.7 1081.7 L1762.7 1081.7 L1766.7 1081.7 L1770.7 1081.7 L1774.7 1081.7 L1778.7 1081.7 L1782.7 1081.7 L1786.7 1081.7 L1790.7 1081.7 L1794.7 1081.7 L1798.7 1081.7 L1802.7 1081.7 L1806.7 1081.7 L1810.7 1081.7 L1814.7 1081.7 L1818.7 1081.7 L1822.7 1081.7 L1826.7 1081.7 L1830.7 1081.7 L1834.7 1081.8 L1838.7 1081.8 L1842.7 1081.8 L1846.7 1081.8 L1850.7 1081.8 L1854.7 1081.8 L1858.7 1081.8 L1862.7 1081.8 L1866.7 1081.8 L1870.0 1081.8" stroke="#ff00ff" stroke-width="12.2"/>
</g>
<rect x="122.90" y="34.90" width="12" height="12.4" fill="#ff86f2"/>
<path d="M139.3 39.1 H127.3 V51.1" fill="none" stroke="#3fa2ff" stroke-width="3"/>
<rect x="123.80" y="30.40" width="7" height="3.4" fill="#138a13"/>
<rect x="117.50" y="35.85" width="3.6" height="6.5" fill="#138a13"/>
<rect x="122.90" y="1208.80" width="12" height="12.4" fill="#ff86f2"/>
<path d="M139.3 1217.0 H127.3 V1205.0" fill="none" stroke="#3fa2ff" stroke-width="3"/>
<rect x="123.80" y="1222.30" width="7" height="3.4" fill="#138a13"/>
<rect x="117.50" y="1213.75" width="3.6" height="6.5" fill="#138a13"/>
<rect x="1861.20" y="34.90" width="12" height="12.4" fill="#ff86f2"/>
<path d="M1856.8 39.1 H1868.8 V51.1" fill="none" stroke="#3fa2ff" stroke-width="3"/>
<rect x="1865.30" y="30.40" width="7" height="3.4" fill="#138a13"/>
<rect x="1875.00" y="35.85" width="3.6" height="6.5" fill="#138a13"/>
<rect x="1861.20" y="1208.80" width="12" height="12.4" fill="#ff86f2"/>
<path d="M1856.8 1217.0 H1868.8 V1205.0" fill="none" stroke="#3fa2ff" stroke-width="3"/>
<rect x="1875.00" y="1213.75" width="3.6" height="6.5" fill="#138a13"/>
<rect x="987.50" y="33.80" width="16.2" height="11.2" fill="#ff86f2"/>
<rect x="985.60" y="37.60" width="20" height="3" fill="#3fa2ff"/>
<rect x="991.10" y="30.40" width="9" height="3.4" fill="#138a13"/>
<rect x="991.10" y="45.10" width="9" height="4" fill="#138a13"/>
<rect x="987.50" y="1211.70" width="16.2" height="11.2" fill="#ff86f2"/>
<rect x="985.60" y="1215.50" width="20" height="3" fill="#3fa2ff"/>
<rect x="991.10" y="1208.30" width="9" height="3.4" fill="#138a13"/>
<rect x="991.10" y="1223.00" width="9" height="4" fill="#138a13"/>
<rect x="121.80" y="619.25" width="11" height="16.5" fill="#ff86f2"/>
<rect x="125.70" y="618.35" width="3.2" height="18.3" fill="#3fa2ff"/>
<rect x="117.00" y="623.75" width="4.4" height="7.5" fill="#138a13"/>
<rect x="133.40" y="623.75" width="4.4" height="7.5" fill="#138a13"/>
<rect x="1863.30" y="619.25" width="11" height="16.5" fill="#ff86f2"/>
<rect x="1867.20" y="618.35" width="3.2" height="18.3" fill="#3fa2ff"/>
<rect x="1858.50" y="623.75" width="4.4" height="7.5" fill="#138a13"/>
<rect x="1874.90" y="623.75" width="4.4" height="7.5" fill="#138a13"/>
<text x="622.0" y="1298" font-size="56" text-anchor="middle" font-family="'Liberation Serif', 'Noto Serif CJK SC', serif" font-weight="bold">400</text>
<text x="1246.0" y="1298" font-size="56" text-anchor="middle" font-family="'Liberation Serif', 'Noto Serif CJK SC', serif" font-weight="bold">500</text>
<text x="1867.1" y="1298" font-size="56" text-anchor="middle" font-family="'Liberation Serif', 'Noto Serif CJK SC', serif" font-weight="bold">600</text>
<text x="734" y="1401.5" font-size="71" font-family="'Liberation Serif', 'Noto Serif CJK SC', serif" font-weight="bold">Wavelength (nm)</text>
<text transform="translate(67,871.5) rotate(-90)" font-size="71.4" font-family="'Liberation Serif', 'Noto Serif CJK SC', serif" font-weight="bold">Absorbance (a.u.)</text>
<line x1="1154" y1="141.3" x2="1277" y2="141.3" stroke="#000000" stroke-width="12.5" stroke-linecap="round"/>
<text x="1290.8" y="161.8" font-size="55.3" font-family="'Liberation Serif', 'Noto Serif CJK SC', serif" font-weight="bold">SQDs</text>
<line x1="1154" y1="212.6" x2="1277" y2="212.6" stroke="#ff0000" stroke-width="12.5" stroke-linecap="round"/>
<text x="1290.5" y="231.3" font-size="55.3" font-family="'Liberation Serif', 'Noto Serif CJK SC', serif" font-weight="bold">Cr<tspan font-size="48" font-weight="normal" x="1357.3" dy="-1.5">（</tspan><tspan x="1409" dy="1.5">VI</tspan><tspan font-size="48" font-weight="normal" x="1479.5" dy="-1.5">）</tspan></text>
<line x1="1154" y1="282" x2="1277" y2="282" stroke="#0000ff" stroke-width="12.5" stroke-linecap="round"/>
<text x="1290.8" y="300.2" font-size="55.3" font-family="'Liberation Serif', 'Noto Serif CJK SC', serif" font-weight="bold">SQDs + Cr(VI)</text>
<line x1="1154" y1="350.7" x2="1277" y2="350.7" stroke="#ff00ff" stroke-width="12.5" stroke-linecap="round"/>
<text x="1290.8" y="369.6" font-size="55.3" font-family="'Liberation Serif', 'Noto Serif CJK SC', serif" font-weight="bold">SQDs + Cr(VI) + AA</text>
</svg>
</body></html>
